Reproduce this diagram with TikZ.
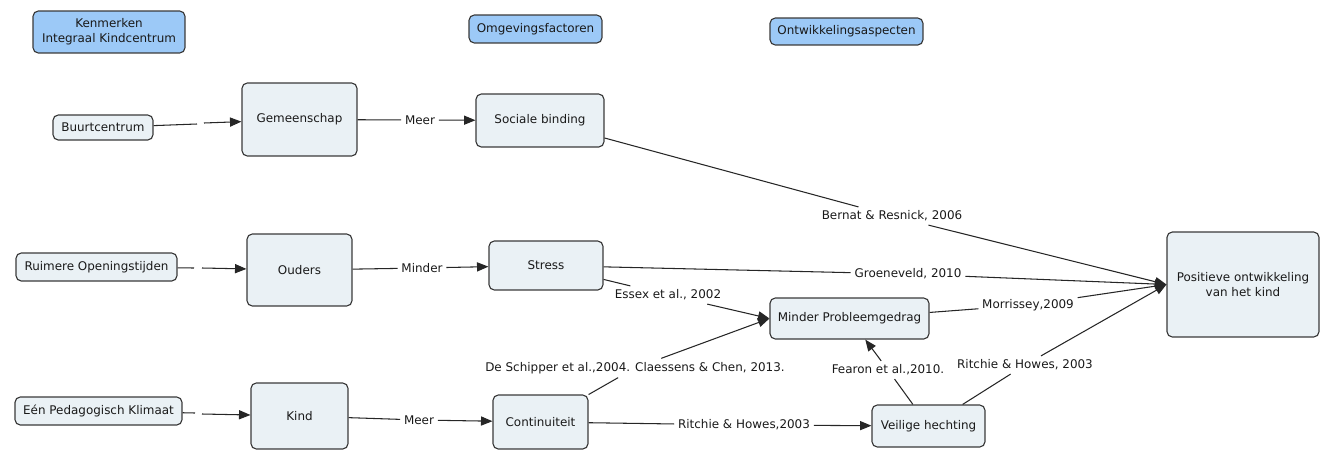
\documentclass[tikz,border=0pt]{standalone}
\usepackage{fontspec}
\setmainfont{DejaVu Sans}
\usetikzlibrary{arrows.meta}
\definecolor{conceptfill}{HTML}{EAF1F5}
\definecolor{headfill}{HTML}{9CC9F7}
\definecolor{edgecol}{HTML}{3A3A3A}
\begin{document}
\begin{tikzpicture}[x=0.02cm,y=-0.02cm,
		concept/.style={draw=edgecol, line width=0.65pt, rounded corners=3pt, fill=conceptfill, inner sep=0pt, align=center},
		header/.style={concept, fill=headfill},
		linkword/.style={inner sep=2pt},
		every node/.style={font=\fontsize{6.8}{8.5}\selectfont, text=black!90},
		link/.style={draw=black!85, line width=0.6pt},
		arr/.style={link, -{Triangle[length=6.5pt,width=5.2pt]}}]
		\useasboundingbox (0,0) rectangle (1323,450);
		\coordinate (g1a) at (197,124);
		\coordinate (g1b) at (204,123);
		\coordinate (g2a) at (194,268);
		\coordinate (g2b) at (202,268);
		\coordinate (g3a) at (195,413);
		\coordinate (g3b) at (202,414);
		\node[header, minimum width=3.04cm, minimum height=0.84cm] (kenm) at (109,32) {Kenmerken\\Integraal Kindcentrum};
		\node[header, minimum width=2.66cm, minimum height=0.56cm] (omgev) at (535.5,29) {Omgevingsfactoren};
		\node[header, minimum width=3.06cm, minimum height=0.54cm] (ontw) at (846.5,31.5) {Ontwikkelingsaspecten};
		\node[concept, minimum width=2.0cm, minimum height=0.5cm] (buurt) at (103,127.5) {Buurtcentrum};
		\node[concept, minimum width=2.3cm, minimum height=1.46cm] (gemeen) at (299.5,119.5) {Gemeenschap};
		\node[concept, minimum width=2.56cm, minimum height=1.06cm] (sociaal) at (540,120.5) {Sociale binding};
		\node[concept, minimum width=3.22cm, minimum height=0.56cm] (ruimere) at (96.5,267) {Ruimere Openingstijden};
		\node[concept, minimum width=2.1cm, minimum height=1.44cm] (ouders) at (299.5,270) {Ouders};
		\node[concept, minimum width=2.28cm, minimum height=0.98cm] (stress) at (546,265.5) {Stress};
		\node[concept, minimum width=3.34cm, minimum height=0.56cm] (eenped) at (98.5,411) {Eén Pedagogisch Klimaat};
		\node[concept, minimum width=1.94cm, minimum height=1.32cm] (kind) at (299.5,416) {Kind};
		\node[concept, minimum width=1.9cm, minimum height=1.08cm] (contin) at (540.5,422) {Continuiteit};
		\node[concept, minimum width=3.18cm, minimum height=0.82cm] (minderp) at (849.5,318.5) {Minder Probleemgedrag};
		\node[concept, minimum width=2.26cm, minimum height=0.84cm] (veilig) at (928.5,426) {Veilige hechting};
		\node[concept, minimum width=3.04cm, minimum height=2.1cm] (posit) at (1243,284.5) {Positieve ontwikkeling\\van het kind};
		\node[linkword] (meer1) at (420,120) {Meer};
		\node[linkword] (minder) at (422,268) {Minder};
		\node[linkword] (meer2) at (419,420) {Meer};
		\node[linkword] (bernat) at (892,216) {Bernat \& Resnick, 2006};
		\node[linkword] (groen) at (908,274) {Groeneveld, 2010};
		\node[linkword] (essex) at (668,295) {Essex et al., 2002};
		\node[linkword] (deschip) at (635,368) {De Schipper et al.,2004. Claessens \& Chen, 2013.};
		\node[linkword] (ritchie1) at (744,425) {Ritchie \& Howes,2003};
		\node[linkword] (fearon) at (888,370) {Fearon et al.,2010.};
		\node[linkword] (ritchie2) at (1025,365) {Ritchie \& Howes, 2003};
		\node[linkword] (morris) at (1028,305) {Morrissey,2009};
		\draw[link] (buurt) -- (g1a);
		\draw[arr] (g1b) -- (gemeen);
		\draw[link] (ruimere) -- (g2a);
		\draw[arr] (g2b) -- (ouders);
		\draw[link] (eenped) -- (g3a);
		\draw[arr] (g3b) -- (kind);
		\draw[link] (gemeen) -- (meer1);
		\draw[arr] (meer1) -- (sociaal);
		\draw[link] (ouders) -- (minder);
		\draw[arr] (minder) -- (stress);
		\draw[link] (kind) -- (meer2);
		\draw[arr] (meer2) -- (contin);
		\draw[link] (sociaal) -- (bernat);
		\draw[arr] (bernat) -- (posit.west);
		\draw[link] (stress) -- (groen);
		\draw[arr] (groen) -- (posit.west);
		\draw[link] (stress) -- (essex);
		\draw[arr] (essex) -- (minderp.west);
		\draw[link] (contin) -- (deschip);
		\draw[arr] (deschip) -- (minderp.west);
		\draw[link] (contin) -- (ritchie1);
		\draw[arr] (ritchie1) -- (veilig);
		\draw[link] (veilig) -- (fearon);
		\draw[arr] (fearon) -- (minderp);
		\draw[link] (veilig) -- (ritchie2);
		\draw[arr] (ritchie2) -- (posit.west);
		\draw[link] (minderp) -- (morris);
		\draw[arr] (morris) -- (posit.west);
	\end{tikzpicture}
\end{document}
